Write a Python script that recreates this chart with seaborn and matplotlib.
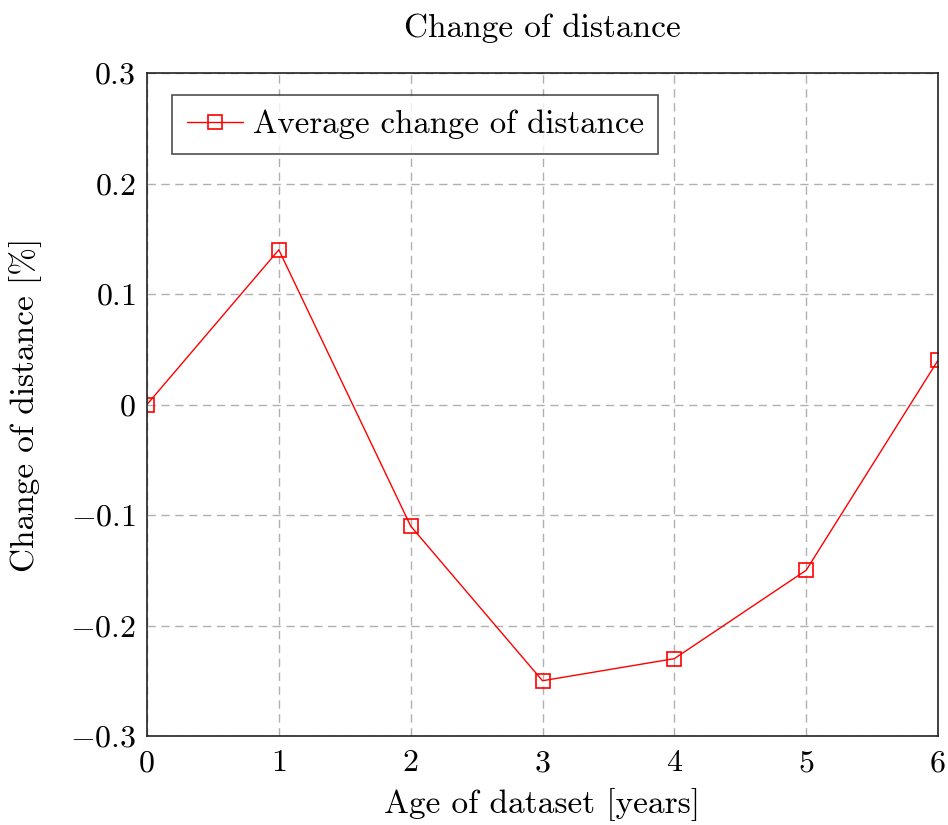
import matplotlib
matplotlib.use("Agg")
import matplotlib.pyplot as plt
import seaborn as sns
import pandas as pd
from matplotlib.ticker import FixedLocator, FixedFormatter

years = [0, 1, 2, 3, 4, 5, 6]
avg_change = [0.0, 0.14, -0.11, -0.25, -0.23, -0.15, 0.04]
y_ticks = [-0.3, -0.2, -0.1, 0.0, 0.1, 0.2, 0.3]
y_labels = [r"$-0.3$", r"$-0.2$", r"$-0.1$", r"$0$", r"$0.1$", r"$0.2$", r"$0.3$"]
x_labels = ["0", "1", "2", "3", "4", "5", "6"]
series_name = "Average change of distance"

sns.set_theme(style="white")
plt.rcParams["font.family"] = ["cmr10", "DejaVu Serif"]
plt.rcParams["mathtext.fontset"] = "cm"
plt.rcParams["axes.unicode_minus"] = False
plt.rcParams["text.color"] = "black"
plt.rcParams["axes.labelcolor"] = "black"
plt.rcParams["xtick.labelcolor"] = "black"
plt.rcParams["ytick.labelcolor"] = "black"

df = pd.DataFrame({"Age": years, "Change": avg_change, "series": series_name})

fig = plt.figure(figsize=(9.48, 8.25), dpi=100)
ax = fig.add_axes([147/948, 1-736/825, (938-147)/948, (736-73)/825])

sns.lineplot(data=df, x="Age", y="Change", hue="series", palette=["#ff0000"],
             marker="s", markersize=10, markerfacecolor="none", markeredgecolor="#ff0000",
             markeredgewidth=1.2, linewidth=1.0, ax=ax)

ax.set_xlim(0, 6)
ax.set_ylim(-0.3, 0.3)
ax.xaxis.set_major_locator(FixedLocator(years))
ax.xaxis.set_major_formatter(FixedFormatter(x_labels))
ax.yaxis.set_major_locator(FixedLocator(y_ticks))
ax.yaxis.set_major_formatter(FixedFormatter(y_labels))
ax.grid(True, color="#b0b0b0", linestyle=(0, (6, 4)), linewidth=1.0)
ax.set_axisbelow(True)
for s in ax.spines.values():
    s.set_color("#222222")
    s.set_linewidth(1.2)
ax.tick_params(direction="in", length=7, color="#909090", labelsize=23, pad=8, width=1)
ax.tick_params(axis="x", pad=10)

ax.set_xlabel("Age of dataset [years]", fontsize=24, labelpad=8)
ax.set_ylabel("Change of distance [%]", fontsize=24, labelpad=20)
ax.set_title("Change of distance", fontsize=24, pad=26)

leg = ax.legend(loc="upper left", bbox_to_anchor=(0.032, 0.967), fontsize=23.6, frameon=True,
                fancybox=False, handlelength=1.7, handletextpad=0.3, borderpad=0.45,
                borderaxespad=0)
leg.get_frame().set_edgecolor("#222222")
leg.get_frame().set_linewidth(1.2)

fig.savefig("out.png", dpi=100)
